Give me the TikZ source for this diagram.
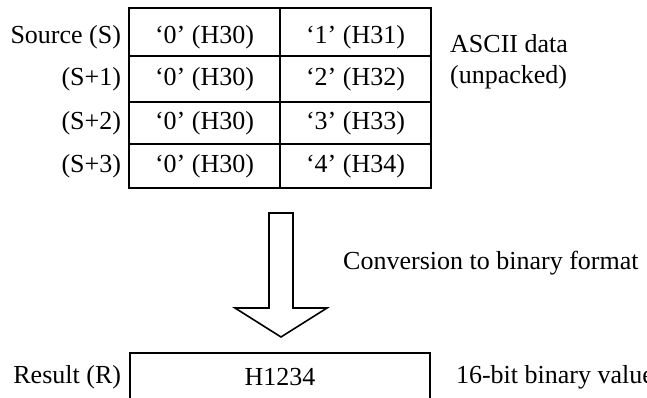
\documentclass[tikz,border=0pt]{standalone}
\usepackage{fontspec}
\setmainfont{Liberation Serif}
\usetikzlibrary{positioning}

\tikzset{
  cell/.style={draw, line width=1.6pt, minimum width=151pt, inner sep=0pt},
  tag/.style={inner sep=0pt},
  toprow/.style={text height=30pt, text depth=6pt},
}

\begin{document}
\begin{tikzpicture}[x=1pt, y=-1pt, font=\fontsize{26}{31}\selectfont]
        \clip (0,0) rectangle (647,398);

        % source words
        \node[cell, toprow, minimum height=48pt] (s0a) at (204.5,32) {‘0’ (H30)};
        \node[cell, toprow, minimum height=48pt] (s0b) at (355.5,32) {‘1’ (H31)};
        \node[cell, minimum height=46pt] (s1a) at (204.5,79) {‘0’ (H30)};
        \node[cell, minimum height=46pt] (s1b) at (355.5,79) {‘2’ (H32)};
        \node[cell, minimum height=42pt] (s2a) at (204.5,123) {‘0’ (H30)};
        \node[cell, minimum height=42pt] (s2b) at (355.5,123) {‘3’ (H33)};
        \node[cell, minimum height=44pt] (s3a) at (204.5,166) {‘0’ (H30)};
        \node[cell, minimum height=44pt] (s3b) at (355.5,166) {‘4’ (H34)};

        % operand names
        \node[tag, toprow, left=7pt of s0a] (src0) {Source (S)};
        \node[tag, left=7pt of s1a] (src1) {(S+1)};
        \node[tag, left=7pt of s2a] (src2) {(S+2)};
        \node[tag, left=7pt of s3a] (src3) {(S+3)};

        \node[tag, align=left, anchor=west] (ascii) at (450,62) {ASCII data\\(unpacked)};

        % conversion arrow
        \draw[line width=1.6pt, line join=miter] (269,213) -- (293,213) -- (293,308) -- (327,308)
            -- (281,337) -- (235,308) -- (269,308) -- cycle;
        \node[tag, anchor=west] (conv) at (343,263) {Conversion to binary format};

        % result word
        \node[cell, minimum width=300pt, minimum height=48pt] (res) at (280,377) {H1234};
        \node[tag, left=8pt of res] (resname) {Result (R)};
        \node[tag, right=25pt of res] (bin) {16-bit binary value};
    \end{tikzpicture}
\end{document}
